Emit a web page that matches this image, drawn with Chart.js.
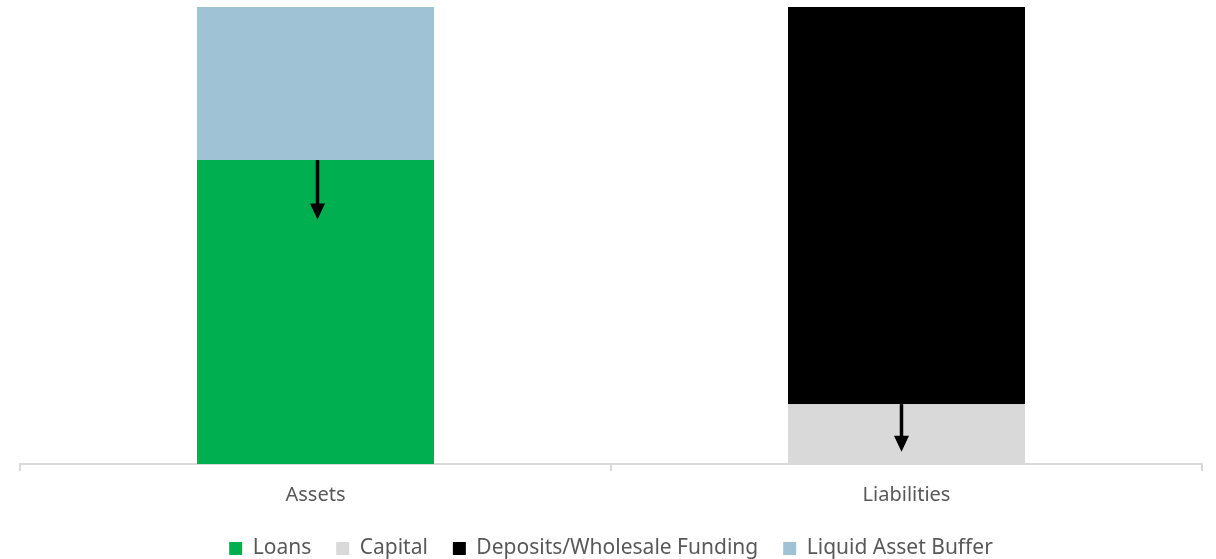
<!DOCTYPE html>
<html>
<head>
<meta charset="utf-8">
<script src="https://cdn.jsdelivr.net/npm/chart.js@4"></script>
<style>
html,body{margin:0;padding:0;background:#fff;}
#wrap{width:1216px;height:559px;position:relative;}
</style>
</head>
<body>
<div id="wrap"><canvas id="c" width="1216" height="559"></canvas></div>
<script>
const categories = ["Assets", "Liabilities"];
const loans = [66.5, null];
const capital = [null, 13.1];
const deposits = [null, 86.9];
const liquidBuffer = [33.5, null];
// arrows: start and end values on the value axis for each category
const arrowFrom = [66.5, 13.1];
const arrowTo = [53.5, 2.7];

const arrowPlugin = {
  id: 'arrows',
  afterDatasetsDraw(chart) {
    const ctx = chart.ctx;
    const xs = chart.scales.x, ys = chart.scales.y;
    const offs = [2, -5];
    categories.forEach((c, i) => {
      const x = xs.getPixelForValue(i) + offs[i];
      const y0 = ys.getPixelForValue(arrowFrom[i]);
      const y1 = ys.getPixelForValue(arrowTo[i]);
      const head = 16;
      ctx.save();
      ctx.strokeStyle = '#000';
      ctx.fillStyle = '#000';
      ctx.lineWidth = 3.5;
      ctx.beginPath();
      ctx.moveTo(x, y0);
      ctx.lineTo(x, y1 - head + 2);
      ctx.stroke();
      ctx.beginPath();
      ctx.moveTo(x - 7.5, y1 - head);
      ctx.lineTo(x + 7.5, y1 - head);
      ctx.lineTo(x, y1);
      ctx.closePath();
      ctx.fill();
      ctx.restore();
    });
  }
};

new Chart(document.getElementById('c'), {
  type: 'bar',
  data: {
    labels: categories,
    datasets: [
      { label: 'Loans', data: loans, backgroundColor: '#00b050' },
      { label: 'Capital', data: capital, backgroundColor: '#d9d9d9' },
      { label: 'Deposits/Wholesale Funding', data: deposits, backgroundColor: '#000000' },
      { label: 'Liquid Asset Buffer', data: liquidBuffer, backgroundColor: '#9fc3d5' }
    ]
  },
  options: {
    responsive: false,
    animation: false,
    layout: { padding: { top: 7, left: 20, right: 14, bottom: -10 } },
    datasets: { bar: { categoryPercentage: 1, barPercentage: 0.401 } },
    plugins: {
      legend: {
        position: 'bottom',
        labels: {
          boxWidth: 13, boxHeight: 13, padding: 25,
          color: '#595959',
          font: { family: 'Noto Sans', size: 21 }
        }
      },
      tooltip: { enabled: false }
    },
    scales: {
      x: {
        stacked: true,
        offset: true,
        afterFit(scale) { scale.height = 49; },
        grid: { offset: true, drawOnChartArea: false, drawTicks: true, tickLength: 7, color: '#d9d9d9', lineWidth: 2 },
        border: { color: '#d9d9d9', width: 2 },
        ticks: { color: '#595959', font: { family: 'Noto Sans', size: 20 }, padding: 12 }
      },
      y: {
        stacked: true, min: 0, max: 100, display: false
      }
    }
  },
  plugins: [arrowPlugin]
});
</script>
</body>
</html>
